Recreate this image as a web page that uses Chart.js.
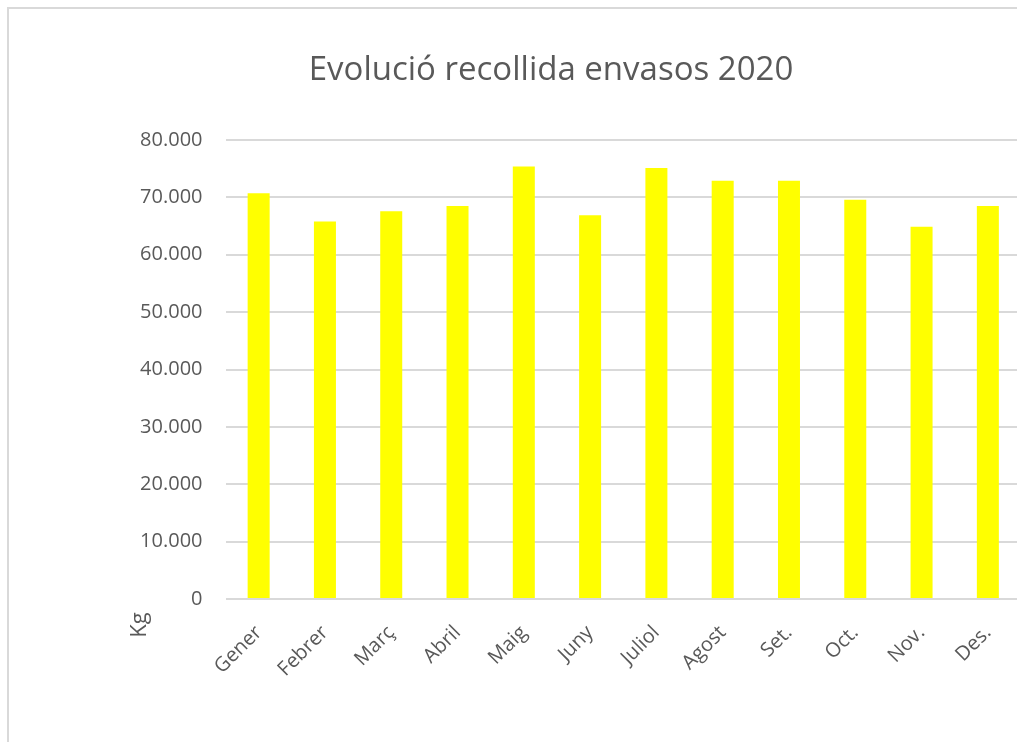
<!DOCTYPE html>
<html>
<head>
<meta charset="utf-8">
<script src="https://cdn.jsdelivr.net/npm/chart.js@4.4.0/dist/chart.umd.min.js"></script>
<style>
  html, body { margin: 0; padding: 0; background: #fff; overflow: hidden; }
  #frame {
    position: absolute; left: 7px; top: 7px;
    width: 1100px; height: 800px;
    border-top: 2px solid #d9d9d9; border-left: 2px solid #d9d9d9;
  }
  #wrap { position: absolute; left: 0; top: 0; width: 1084px; height: 760px; }
</style>
</head>
<body>
<div id="frame"><div id="wrap"><canvas id="envasos"></canvas></div></div>
<script>
// dades llegides del gràfic
var mesos = ["Gener", "Febrer", "Març", "Abril", "Maig", "Juny", "Juliol", "Agost", "Set.", "Oct.", "Nov.", "Des."];
var kg = [70700, 65800, 67600, 68500, 75400, 66900, 75100, 72900, 72900, 69600, 64900, 68500];
var yTicks = [0, 10000, 20000, 30000, 40000, 50000, 60000, 70000, 80000];

var gris = "#595959";
var lletra = "'Open Sans', 'Noto Sans', sans-serif";

function puntMil(v) {
  return String(v).replace(/\B(?=(\d{3})+(?!\d))/g, ".");
}

// etiqueta "Kg" baixa, com a l'Excel
var kgLabel = {
  id: "kgLabel",
  afterDraw: function (chart) {
    var ctx = chart.ctx;
    ctx.save();
    ctx.translate(131, 616);
    ctx.rotate(-Math.PI / 2);
    ctx.fillStyle = gris;
    ctx.font = "22px " + lletra;
    ctx.textAlign = "center";
    ctx.textBaseline = "middle";
    ctx.fillText("Kg", 0, 0);
    ctx.restore();
  }
};

var chartConfig = {
  type: "bar",
  data: {
    labels: mesos,
    datasets: [
      {
        label: "Kg",
        data: kg,
        backgroundColor: "#ffff00",
        borderWidth: 0,
        categoryPercentage: 1,
        barPercentage: 0.332,
      },
    ],
  },
  options: {
    responsive: true,
    maintainAspectRatio: false,
    animation: false,
    layout: { padding: { left: 72, right: 72, top: 0, bottom: 0 } },
    plugins: {
      legend: { display: false },
      tooltip: { enabled: false },
      title: {
        display: true,
        text: "Evolució recollida envasos 2020",
        color: gris,
        font: { family: lletra, size: 33, weight: "normal", lineHeight: 1.2 },
        padding: { top: 42, bottom: 49.4 },
      },
    },
    scales: {
      x: {
        grid: { display: false, drawTicks: false },
        border: { display: false },
        ticks: {
          color: gris,
          font: { family: lletra, size: 20 },
          minRotation: 45,
          maxRotation: 45,
          padding: 22,
        },
        afterFit: function (scale) { scale.height = 170; },
      },
      y: {
        min: 0,
        max: 80000,
        afterBuildTicks: function (scale) {
          scale.ticks = yTicks.map(function (v) { return { value: v }; });
        },
        grid: { color: "#d9d9d9", lineWidth: 2, drawTicks: false },
        border: { display: false },
        ticks: {
          color: gris,
          font: { family: lletra, size: 20 },
          padding: 23,
          callback: function (v) { return puntMil(v); },
        },
        afterFit: function (scale) { scale.width = 144.5; },
      },
    },
  },
  plugins: [kgLabel],
};

var envasosChart = new Chart(document.getElementById("envasos"), chartConfig);
</script>
</body>
</html>
